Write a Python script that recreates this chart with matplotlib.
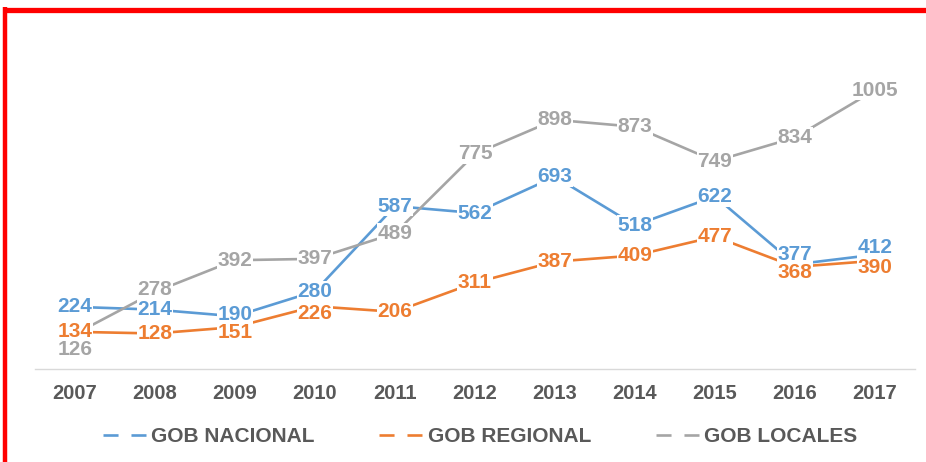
import matplotlib
matplotlib.use("Agg")
import matplotlib.pyplot as plt
from matplotlib.lines import Line2D

plt.rcParams['font.family'] = ['Liberation Sans', 'DejaVu Sans']

years = ["2007", "2008", "2009", "2010", "2011", "2012", "2013", "2014", "2015", "2016", "2017"]
nacional = [224, 214, 190, 280, 587, 562, 693, 518, 622, 377, 412]
regional = [134, 128, 151, 226, 206, 311, 387, 409, 477, 368, 390]
locales = [126, 278, 392, 397, 489, 775, 898, 873, 749, 834, 1005]
names = ["GOB NACIONAL", "GOB REGIONAL", "GOB LOCALES"]
colors = ["#5B9BD5", "#ED7D31", "#A5A5A5"]

# label nudges in points (Excel put a few labels off-centre)
off_nac = [0, 0, 1, 0, 0, 0, 0, 0, 0, 7, 5]
off_reg = [0, 0, -4, -5, 0, 0, 0, 0, 0, -4, -5]
off_loc = [-11, 2, 0, 0, 0, 0, 0, 0, 0, 0, 0]

W, H = 926, 462
fig = plt.figure(figsize=(W / 100, H / 100), dpi=100)
ax = fig.add_axes([35 / W, 1 - 369 / H, 880 / W, 333 / H])

x = list(range(len(years)))
series = [nacional, regional, locales]
offs = [off_nac, off_reg, off_loc]
for vals, c, nm in zip(series, colors, names):
    ax.plot(x, vals, color=c, lw=1.9, solid_capstyle='butt', zorder=2)

for vals, c, off in zip(series, colors, offs):
    for xi, v, o in zip(x, vals, off):
        ax.annotate(str(v), (xi, v), xytext=(0, o), textcoords='offset points',
                    ha='center', va='center', fontsize=15, fontweight='bold', color=c,
                    bbox=dict(boxstyle='square,pad=0.03', fc='white', ec='none'), zorder=5)

ax.set_xlim(-0.5, len(years) - 0.5)
ax.set_ylim(0, 1200)
ax.set_xticks(x)
ax.set_xticklabels(years, fontsize=14.5, fontweight='bold', color='#595959')
ax.tick_params(axis='x', length=0, pad=11)
ax.set_yticks([])
for s in ['top', 'right', 'left']:
    ax.spines[s].set_visible(False)
ax.spines['bottom'].set_color('#D9D9D9')
ax.spines['bottom'].set_linewidth(1)

handles = [Line2D([], [], color=c, lw=1.9, linestyle=(0, (5.7, 4.9))) for c in colors]
leg = fig.legend(handles, names, loc='center', bbox_to_anchor=(480 / W, 1 - 437 / H), ncol=3,
                 frameon=False, handlelength=2.07, handletextpad=0.25, columnspacing=3.1,
                 prop={'size': 15, 'weight': 'bold'})
for t in leg.get_texts():
    t.set_color('#595959')

# red frame on top and left
fig.add_artist(Line2D([3 / W, 1], [1 - 9.5 / H, 1 - 9.5 / H], color='red', lw=3.8,
                      transform=fig.transFigure, solid_capstyle='butt'))
fig.add_artist(Line2D([5 / W, 5 / W], [1 - 7 / H, 0], color='red', lw=3.2,
                      transform=fig.transFigure, solid_capstyle='butt'))

fig.savefig("out.png", dpi=100)
